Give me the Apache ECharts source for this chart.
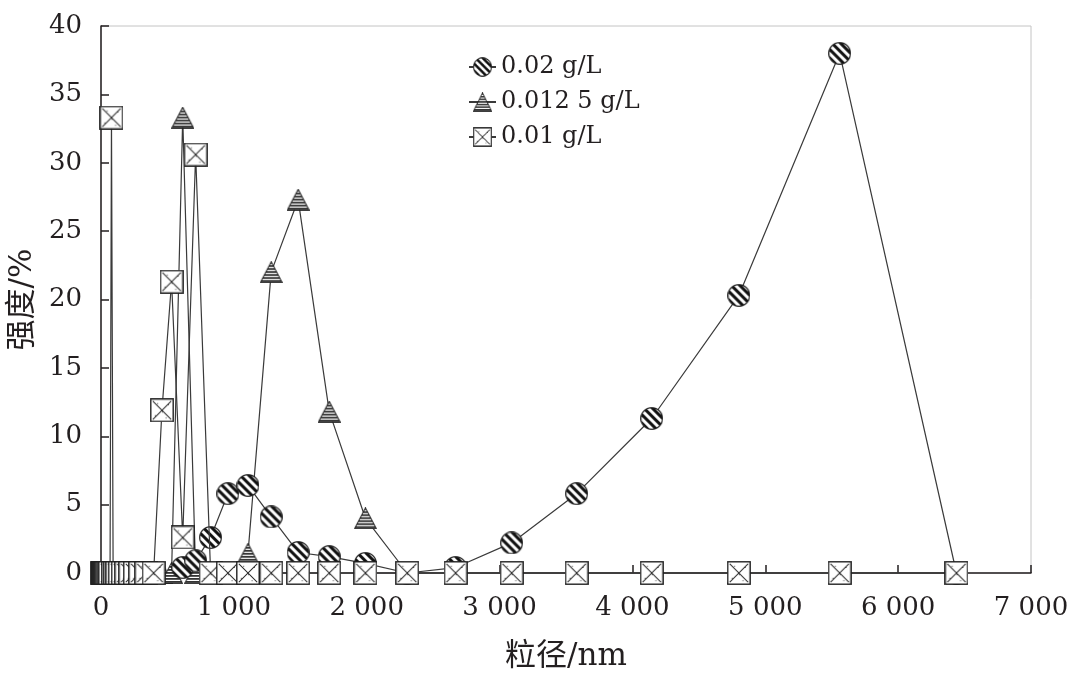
<!DOCTYPE html>
<html>
<head>
<meta charset="utf-8">
<title>粒径分布</title>
<script src="https://cdn.jsdelivr.net/npm/echarts@6/dist/echarts.min.js"></script>
<style>
    html, body { margin: 0; padding: 0; background: #fff; }
    #chart { width: 1081px; height: 683px; }
</style>
</head>
<body>
<div id="chart"></div>
<script>
// 粒径分档 (nm)
var sizes = [10.10, 11.70, 13.54, 15.69, 18.17, 21.04, 24.36, 28.21, 32.67, 37.84,
    43.82, 50.75, 58.77, 68.06, 78.82, 91.28, 105.7, 122.4, 141.8, 164.2,
    190.1, 220.2, 255.0, 295.3, 342.0, 396.1, 458.7, 531.2, 615.1, 712.4,
    825.0, 955.4, 1106, 1281, 1484, 1718, 1990, 2305, 2669, 3091,
    3580, 4145, 4801, 5560, 6439];

var seriesNames = ['0.02 g/L', '0.012 5 g/L', '0.01 g/L'];

// 0.02 g/L, starts at 615.1 nm
var circleStart = 28;
var circleValues = [0.4, 0.9, 2.6, 5.8, 6.4, 4.1, 1.5, 1.2, 0.7, 0,
    0.4, 2.2, 5.8, 11.3, 20.3, 38.0, 0];

// 0.012 5 g/L
var triangleValues = [0, 0, 0, 0, 0, 0, 0, 0, 0, 0,
    0, 0, 0, 0, 0, 0, 0, 0, 0, 0,
    0, 0, 0, 0, 0, 0, 0, 0, 33.3, 0,
    0, 0, 1.4, 22.0, 27.3, 11.8, 4.0, 0, 0, 0,
    0, 0, 0, 0, 0];

// 0.01 g/L
var squareValues = [0, 0, 0, 0, 0, 0, 0, 0, 0, 0,
    0, 0, 0, 0, 33.3, 0, 0, 0, 0, 0,
    0, 0, 0, 0, 0, 0, 11.9, 21.3, 2.6, 30.6,
    0, 0, 0, 0, 0, 0, 0, 0, 0, 0,
    0, 0, 0, 0, 0];

var serif = '"DejaVu Serif", "Liberation Serif", serif';
var cjk = '"DejaVu Serif", "Noto Sans CJK SC", serif';

function pairs(start, values) {
    return values.map(function (v, i) {
        return [sizes[start + i], v];
    });
}

function makeCanvas(w, h, s) {
    var c = document.createElement('canvas');
    c.width = w * s;
    c.height = h * s;
    var ctx = c.getContext('2d');
    ctx.scale(s, s);
    return { canvas: c, ctx: ctx };
}

// 斜条纹圆
function circleMarker(d) {
    var o = makeCanvas(d, d, 4), ctx = o.ctx, r = d / 2 - 0.7;
    ctx.save();
    ctx.beginPath();
    ctx.arc(d / 2, d / 2, r, 0, Math.PI * 2);
    ctx.clip();
    ctx.fillStyle = '#fff';
    ctx.fillRect(0, 0, d, d);
    ctx.strokeStyle = '#111';
    ctx.lineWidth = 3;
    for (var k = -d; k < d * 1.5; k += 8.5) {
        ctx.beginPath();
        ctx.moveTo(k, 0);
        ctx.lineTo(k + d, d);
        ctx.stroke();
    }
    ctx.restore();
    ctx.beginPath();
    ctx.arc(d / 2, d / 2, r, 0, Math.PI * 2);
    ctx.strokeStyle = '#222';
    ctx.lineWidth = 1.2;
    ctx.stroke();
    return 'image://' + o.canvas.toDataURL();
}

// 横条纹三角
function triangleMarker(w, h) {
    var o = makeCanvas(w, h, 4), ctx = o.ctx;
    ctx.save();
    ctx.beginPath();
    ctx.moveTo(w / 2, 0.6);
    ctx.lineTo(w - 0.6, h - 0.6);
    ctx.lineTo(0.6, h - 0.6);
    ctx.closePath();
    ctx.clip();
    ctx.fillStyle = '#fff';
    ctx.fillRect(0, 0, w, h);
    ctx.fillStyle = '#333';
    for (var y = 1; y < h; y += 3) {
        ctx.fillRect(0, y, w, 1.8);
    }
    ctx.restore();
    ctx.beginPath();
    ctx.moveTo(w / 2, 0.6);
    ctx.lineTo(w - 0.6, h - 0.6);
    ctx.lineTo(0.6, h - 0.6);
    ctx.closePath();
    ctx.strokeStyle = '#222';
    ctx.lineWidth = 1;
    ctx.stroke();
    return 'image://' + o.canvas.toDataURL();
}

// 带叉方块
function squareMarker(d) {
    var o = makeCanvas(d, d, 4), ctx = o.ctx, p = 0.8;
    ctx.fillStyle = '#fff';
    ctx.fillRect(p, p, d - 2 * p, d - 2 * p);
    ctx.strokeStyle = '#222';
    ctx.lineWidth = 1.4;
    ctx.strokeRect(p, p, d - 2 * p, d - 2 * p);
    ctx.lineWidth = 1;
    ctx.beginPath();
    ctx.moveTo(p + 2, p + 2);
    ctx.lineTo(d - p - 2, d - p - 2);
    ctx.moveTo(d - p - 2, p + 2);
    ctx.lineTo(p + 2, d - p - 2);
    ctx.stroke();
    ctx.fillStyle = '#555';
    [[0.3, 0.2], [0.75, 0.25], [0.2, 0.7], [0.65, 0.8], [0.5, 0.55]].forEach(function (q) {
        ctx.fillRect(q[0] * d, q[1] * d, 1, 1);
    });
    return 'image://' + o.canvas.toDataURL();
}

var lineStyle = { color: '#3a3a3a', width: 1.2 };

var myChart = echarts.init(document.getElementById('chart'));
var option = {
    backgroundColor: '#fff',
    animation: false,
    grid: {
        left: 101, right: 50, top: 26, bottom: 110,
        outerBoundsMode: 'none',
        show: true, borderColor: '#c4c4c4', borderWidth: 1
    },
    legend: {
        orient: 'vertical',
        left: 463,
        top: 50,
        itemGap: 11,
        itemWidth: 27,
        itemHeight: 24,
        textStyle: { fontFamily: serif, fontSize: 24, color: '#231f20' },
        data: seriesNames
    },
    xAxis: {
        type: 'value',
        min: 0, max: 7000, interval: 1000,
        name: '粒径/nm',
        nameLocation: 'middle',
        nameGap: 68,
        nameTextStyle: { fontFamily: cjk, fontSize: 31, color: '#231f20' },
        axisLine: { lineStyle: { color: '#231f20', width: 1.5 } },
        axisTick: { inside: true, length: 8, lineStyle: { color: '#231f20', width: 1.5 } },
        axisLabel: {
            margin: 22,
            fontFamily: serif, fontSize: 26, color: '#231f20',
            formatter: function (v) {
                return String(v).replace(/\B(?=(\d{3})+(?!\d))/g, ' ');
            }
        },
        splitLine: { show: false }
    },
    yAxis: {
        type: 'value',
        min: 0, max: 40, interval: 5,
        name: '强度/%',
        nameLocation: 'middle',
        nameGap: 63,
        nameRotate: 90,
        nameTextStyle: { fontFamily: cjk, fontSize: 31, color: '#231f20' },
        axisLine: { show: true, lineStyle: { color: '#231f20', width: 1.5 } },
        axisTick: { show: true, inside: true, length: 8, lineStyle: { color: '#231f20', width: 1.5 } },
        axisLabel: { margin: 19, fontFamily: serif, fontSize: 26, color: '#231f20' },
        splitLine: { show: false }
    },
    series: [{
        name: seriesNames[0],
        type: 'line',
        z: 3,
        clip: false,
        data: pairs(circleStart, circleValues),
        symbol: circleMarker(23),
        symbolSize: 23,
        showAllSymbol: true,
        lineStyle: lineStyle,
        itemStyle: { color: '#222' }
    }, {
        name: seriesNames[1],
        type: 'line',
        z: 2,
        clip: false,
        data: pairs(0, triangleValues),
        symbol: triangleMarker(23, 22),
        symbolSize: [23, 22],
        showAllSymbol: true,
        lineStyle: lineStyle,
        itemStyle: { color: '#222' }
    }, {
        name: seriesNames[2],
        type: 'line',
        z: 4,
        clip: false,
        data: pairs(0, squareValues),
        symbol: squareMarker(24),
        symbolSize: 24,
        showAllSymbol: true,
        lineStyle: lineStyle,
        itemStyle: { color: '#222' }
    }]
};
myChart.setOption(option);
</script>
</body>
</html>
